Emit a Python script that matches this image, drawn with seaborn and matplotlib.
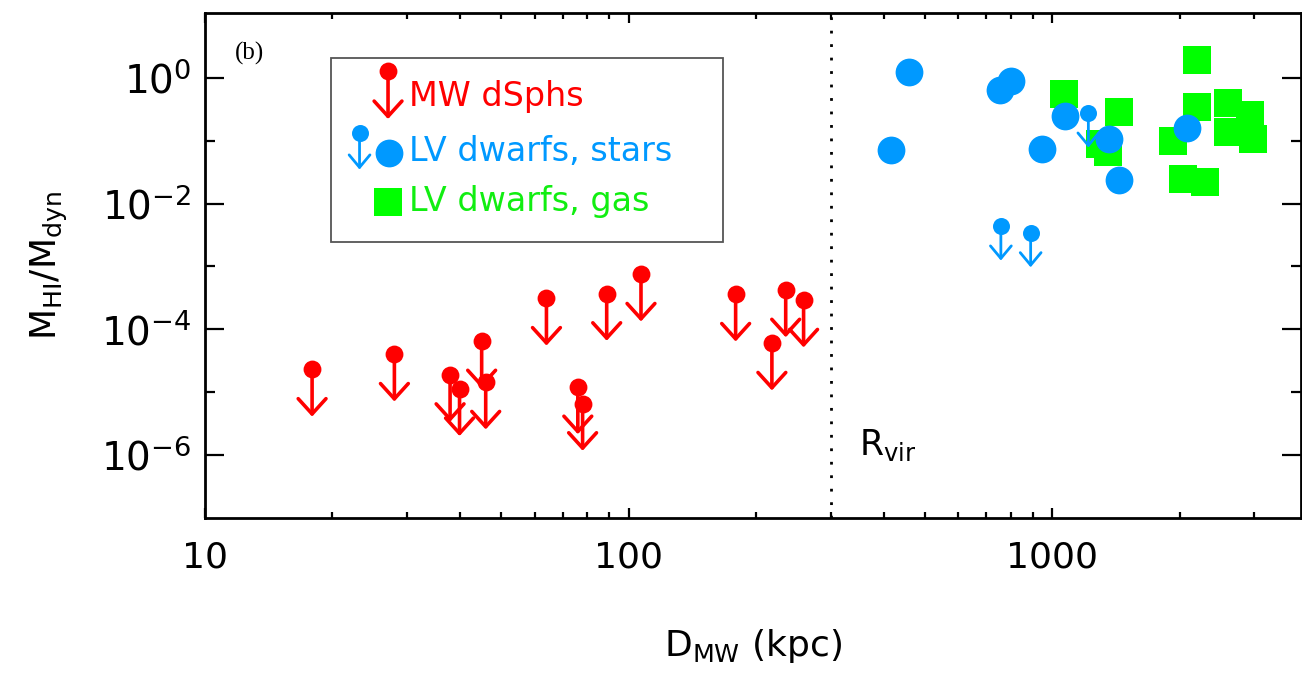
import numpy as np
import pandas as pd
import matplotlib
matplotlib.use('Agg')
import matplotlib.pyplot as plt
import seaborn as sns
from matplotlib.ticker import FixedLocator, NullFormatter, LogFormatterSciNotation, FuncFormatter
from matplotlib.patches import Rectangle

# MW dSphs (upper limits)
mw_dist = [17.9, 28.0, 37.9, 39.9, 45.0, 46.0, 64.0, 75.9, 77.9, 88.8, 107, 179, 218, 235, 259]
mw_ratio = [2.3e-5, 4.0e-5, 1.9e-5, 1.13e-5, 6.5e-5, 1.44e-5, 3.1e-4, 1.21e-5, 6.6e-6,
            3.7e-4, 7.5e-4, 3.6e-4, 6.0e-5, 4.2e-4, 2.9e-4]

# LV dwarfs, stars (detections)
lv_star_dist = [417, 460, 754, 798, 946, 1073, 1365, 1435, 2084]
lv_star_ratio = [0.072, 1.23, 0.65, 0.885, 0.075, 0.244, 0.107, 0.0239, 0.158]

# LV dwarfs, stars (upper limits)
lv_lim_dist = [757, 890, 1218]
lv_lim_ratio = [0.0044, 0.00344, 0.275]

# LV dwarfs, gas
lv_gas_dist = [1069, 1435, 1298, 1356, 2197, 2197, 1932, 2042, 2296, 2600, 2600, 2931, 2980]
lv_gas_ratio = [0.56, 0.286, 0.090, 0.065, 1.92, 0.344, 0.10, 0.0246, 0.0217,
                0.394, 0.135, 0.253, 0.108]

r_vir = 300

RED = '#FF0000'
BLUE = '#0099FF'
GREEN = '#00FF00'
GREEN_TXT = '#11EE11'

sns.set_style('ticks')
plt.rcParams['font.family'] = ['DejaVu Sans']
plt.rcParams['mathtext.default'] = 'regular'
plt.rcParams['text.color'] = 'black'
plt.rcParams['axes.labelcolor'] = 'black'
plt.rcParams['xtick.color'] = 'black'
plt.rcParams['ytick.color'] = 'black'

fig = plt.figure(figsize=(13.02, 6.77), dpi=100)
ax = fig.add_axes([205 / 1302, 1 - 518 / 677, 1096 / 1302, 505 / 677])
ax.set_xscale('log')
ax.set_yscale('log')
ax.set_xlim(10, 3870)
ax.set_ylim(1e-7, 10 ** 1.03)

mw = pd.DataFrame({'d': mw_dist, 'r': mw_ratio})
stars = pd.DataFrame({'d': lv_star_dist, 'r': lv_star_ratio})
lims = pd.DataFrame({'d': lv_lim_dist, 'r': lv_lim_ratio})
gas = pd.DataFrame({'d': lv_gas_dist, 'r': lv_gas_ratio})

RED_HEAD = '->,head_length=1.1,head_width=1.0'
BLUE_HEAD = '->,head_length=0.9,head_width=0.75'


def limit_arrows(df, color, dex, lw, head):
    for d, r in zip(df['d'], df['r']):
        ax.annotate('', xy=(d, r * 10 ** (-dex)), xytext=(d, r),
                    arrowprops=dict(arrowstyle=head, color=color, lw=lw,
                                    shrinkA=0, shrinkB=0, mutation_scale=10), zorder=3)


# MW dSphs
limit_arrows(mw, RED, 0.75, 2.6, RED_HEAD)
sns.scatterplot(data=mw, x='d', y='r', ax=ax, color=RED, s=165, marker='o',
                linewidth=0, zorder=4, legend=False)

# LV gas
sns.scatterplot(data=gas, x='d', y='r', ax=ax, color=GREEN, s=390, marker='s',
                linewidth=0, zorder=2, legend=False)
# LV stars
sns.scatterplot(data=stars, x='d', y='r', ax=ax, color=BLUE, s=400, marker='o',
                linewidth=0, zorder=3, legend=False)
limit_arrows(lims, BLUE, 0.55, 2.0, BLUE_HEAD)
sns.scatterplot(data=lims, x='d', y='r', ax=ax, color=BLUE, s=150, marker='o',
                linewidth=0, zorder=4, legend=False)

# virial radius
ax.axvline(r_vir, color='k', ls=(0, (1, 3.85)), lw=2, zorder=1)
ax.text(350, 1e-6, r'R$_{vir}$', fontsize=25, va='baseline', ha='left')

# panel tag
ax.text(0.027, 0.92, '(b)', transform=ax.transAxes, fontsize=18,
        family='Liberation Serif', va='center', ha='left')

# axes, ticks
for s in ax.spines.values():
    s.set_linewidth(2)
    s.set_color('k')

ax.xaxis.set_major_locator(FixedLocator([10, 100, 1000]))
ax.xaxis.set_minor_locator(FixedLocator([m * 10 ** k for k in (1, 2, 3) for m in range(2, 10)]))
ax.xaxis.set_major_formatter(FuncFormatter(lambda v, p: f'{v:.0f}'))
ax.xaxis.set_minor_formatter(NullFormatter())
ax.yaxis.set_major_locator(FixedLocator([1e-6, 1e-4, 1e-2, 1]))
ax.yaxis.set_minor_locator(FixedLocator([1e-5, 1e-3, 1e-1]))
ax.yaxis.set_major_formatter(LogFormatterSciNotation())
ax.yaxis.set_minor_formatter(NullFormatter())

ax.tick_params(axis='both', which='both', direction='in', top=True, right=True,
               color='k', width=1.6)
ax.tick_params(axis='x', which='major', length=7, labelsize=26, pad=16)
ax.tick_params(axis='x', which='minor', length=4)
ax.tick_params(axis='y', which='major', length=14, labelsize=28, pad=10)
ax.tick_params(axis='y', which='minor', length=7)

ax.set_xlabel(r'D$_{MW}$ (kpc)', fontsize=26, labelpad=38)
ax.set_ylabel(r'M$_{HI}$/M$_{dyn}$', fontsize=26, labelpad=22)

# legend box drawn by hand
ax.add_patch(Rectangle((0.115, 0.5465), 0.3575, 0.3645, transform=ax.transAxes,
                       fill=False, edgecolor='#555555', lw=1.3, zorder=5))
ax.annotate('', xy=(0.167, 0.79), xytext=(0.167, 0.885), xycoords='axes fraction',
            arrowprops=dict(arrowstyle=RED_HEAD, color=RED, lw=2.6,
                            shrinkA=0, shrinkB=0, mutation_scale=10), zorder=5)
ax.scatter([0.167], [0.885], transform=ax.transAxes, color=RED, s=165, lw=0, zorder=6)
ax.annotate('', xy=(0.141, 0.69), xytext=(0.141, 0.762), xycoords='axes fraction',
            arrowprops=dict(arrowstyle=BLUE_HEAD, color=BLUE, lw=2.0,
                            shrinkA=0, shrinkB=0, mutation_scale=10), zorder=5)
ax.scatter([0.141], [0.762], transform=ax.transAxes, color=BLUE, s=150, lw=0, zorder=6)
ax.scatter([0.168], [0.722], transform=ax.transAxes, color=BLUE, s=400, lw=0, zorder=6)
ax.scatter([0.167], [0.626], transform=ax.transAxes, color=GREEN, s=390, marker='s',
           lw=0, zorder=6)
ax.text(0.186, 0.834, 'MW dSphs', color=RED, fontsize=24, transform=ax.transAxes,
        va='center', ha='left', zorder=6)
ax.text(0.186, 0.725, 'LV dwarfs, stars', color=BLUE, fontsize=24, transform=ax.transAxes,
        va='center', ha='left', zorder=6)
ax.text(0.186, 0.626, 'LV dwarfs, gas', color=GREEN_TXT, fontsize=24, transform=ax.transAxes,
        va='center', ha='left', zorder=6)

fig.savefig('out.png', dpi=100)
